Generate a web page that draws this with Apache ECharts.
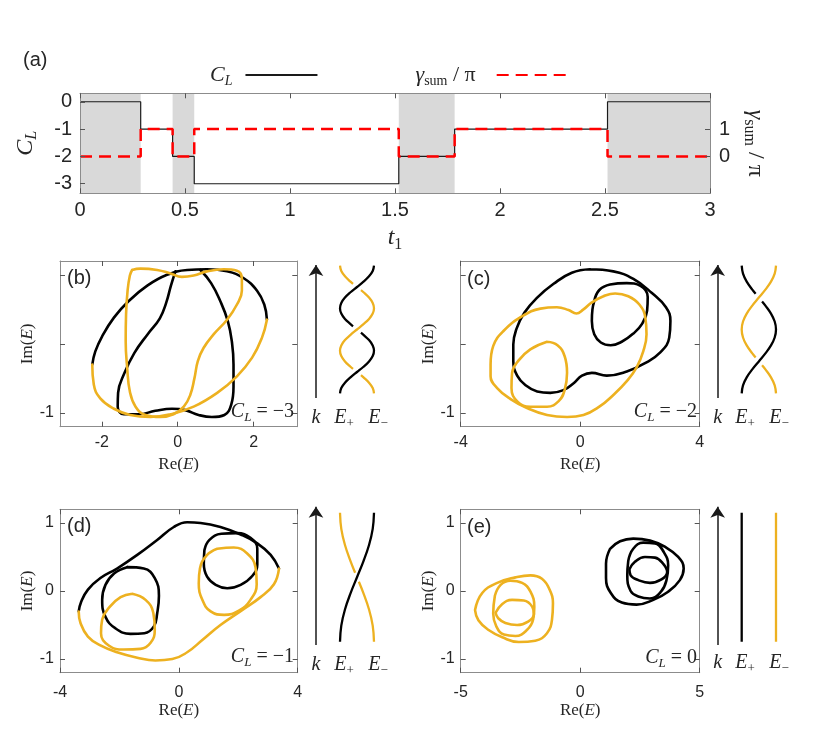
<!DOCTYPE html>
<html><head><meta charset="utf-8">
<script src="https://cdn.jsdelivr.net/npm/echarts@6/dist/echarts.min.js"></script>
<style>html,body{margin:0;padding:0;background:#fff}#c{width:822px;height:744px}</style>
</head><body><div id="c"></div>
<script>
// ---------- Panel (a) data ----------
const t1Breaks = [0, 0.289, 0.441, 0.544, 1.518, 1.784, 2.512, 3];
const clLevels = [0, -1, -2, -3, -2, -1, 0];
const gammaLevels = [0, 1, 0, 1, 0, 1, 0];
const shadedRanges = [[0, 0.289], [0.441, 0.544], [1.518, 1.784], [2.512, 3]];
const aXTicks = [0, 0.5, 1, 1.5, 2, 2.5, 3];
const aLeftTicks = [0, -1, -2, -3];
const aRightTicks = [0, 1];

// ---------- Panel (b) C_L = -3 ----------
const bBlackOuter = [[-2.25,-0.30],[-2.17,-0.11],[-1.99,0.11],[-1.68,0.38],[-1.29,0.62],[-0.81,0.84],[-0.28,1.00],[0.25,1.07],[0.77,1.08],[1.30,1.05],[1.74,0.95],[2.09,0.77],[2.28,0.57],[2.35,0.35]];
const bYellowOuter = [[2.35,0.35],[2.22,0.09],[1.96,-0.20],[1.56,-0.47],[1.04,-0.71],[0.42,-0.91],[-0.19,-1.02],[-0.72,-1.06],[-1.25,-1.03],[-1.68,-0.94],[-2.04,-0.79],[-2.21,-0.59],[-2.25,-0.30]];
const bBlackInner = [[-0.06,1.05],[-0.18,0.84],[-0.30,0.60],[-0.47,0.37],[-0.79,0.14],[-1.14,-0.13],[-1.40,-0.42],[-1.57,-0.71],[-1.58,-0.91],[-1.42,-1.02],[-1.03,-1.02],[-0.59,-0.97],[-0.15,-0.94],[0.20,-0.96],[0.55,-1.03],[0.90,-1.06],[1.23,-1.03],[1.41,-0.88],[1.47,-0.62],[1.47,-0.30],[1.43,0.02],[1.32,0.33],[1.12,0.62],[0.88,0.88],[0.60,1.07]];
const bYellowInner = [[-1.20,1.07],[-0.98,1.09],[-0.54,1.07],[-0.19,1.02],[0.11,0.97],[0.42,0.99],[0.77,1.05],[1.21,1.08],[1.56,1.06],[1.69,0.94],[1.69,0.77],[1.56,0.57],[1.30,0.35],[0.95,0.14],[0.68,-0.06],[0.53,-0.25],[0.44,-0.50],[0.33,-0.74],[0.16,-0.91],[-0.11,-1.02],[-0.46,-1.06],[-0.85,-1.03],[-1.11,-0.91],[-1.26,-0.69],[-1.33,-0.35],[-1.37,0.04],[-1.36,0.43],[-1.32,0.77],[-1.26,0.99]];

// ---------- Panel (c) C_L = -2 ----------
const cBlackOuter = [[0.33,1.08],[1.11,1.05],[1.78,0.94],[2.39,0.74],[2.87,0.53],[3.02,0.33],[2.98,0.09],[2.69,-0.12],[2.17,-0.28],[1.56,-0.40],[0.89,-0.46],[0.39,-0.42],[0.06,-0.46],[-0.22,-0.57],[-0.56,-0.67],[-1.00,-0.71],[-1.44,-0.69],[-1.83,-0.60],[-2.11,-0.46],[-2.24,-0.25],[-2.24,-0.01],[-2.13,0.22],[-1.87,0.45],[-1.44,0.67],[-0.89,0.87],[-0.28,1.03]];
const cBlackInner = [[0.47,0.62],[0.64,0.78],[1.00,0.86],[1.56,0.88],[2.02,0.84],[2.26,0.68],[2.24,0.48],[2.07,0.29],[1.78,0.15],[1.39,0.03],[1.02,-0.02],[0.69,0.02],[0.47,0.14],[0.39,0.33],[0.41,0.50]];
const cYellowOuter = [[-3.00,-0.30],[-2.91,-0.03],[-2.56,0.19],[-1.94,0.40],[-1.33,0.51],[-0.78,0.53],[-0.39,0.49],[-0.13,0.44],[0.11,0.50],[0.39,0.60],[0.78,0.69],[1.17,0.73],[1.61,0.69],[1.98,0.57],[2.18,0.38],[2.22,0.14],[2.11,-0.11],[1.89,-0.34],[1.56,-0.54],[1.11,-0.74],[0.64,-0.91],[0.11,-1.03],[-0.44,-1.06],[-1.11,-1.03],[-1.78,-0.93],[-2.33,-0.80],[-2.78,-0.64],[-3.00,-0.47]];
const cYellowInner = [[-1.11,0.03],[-0.76,-0.02],[-0.52,-0.18],[-0.44,-0.42],[-0.52,-0.67],[-0.72,-0.83],[-1.11,-0.91],[-1.67,-0.91],[-2.09,-0.84],[-2.30,-0.64],[-2.28,-0.42],[-2.06,-0.24],[-1.67,-0.08]];

// ---------- Panel (d) C_L = -1 ----------
const dBlackOuter = [[-3.37,-0.30],[-3.29,-0.16],[-3.06,0.02],[-2.64,0.19],[-2.08,0.33],[-1.40,0.53],[-0.73,0.75],[-0.17,0.94],[0.28,1.01],[0.73,1.00],[1.40,0.94],[2.08,0.83],[2.64,0.70],[3.09,0.53],[3.37,0.33]];
const dYellowOuter = [[3.37,0.33],[3.20,0.10],[2.75,-0.09],[2.13,-0.28],[1.40,-0.50],[0.79,-0.72],[0.28,-0.90],[-0.22,-1.00],[-0.79,-1.02],[-1.40,-0.98],[-2.08,-0.90],[-2.64,-0.80],[-3.06,-0.67],[-3.31,-0.47],[-3.37,-0.30]];
const dBlackLeft = [[-1.74,0.35],[-1.18,0.33],[-0.81,0.19],[-0.67,-0.07],[-0.73,-0.33],[-0.84,-0.52],[-1.16,-0.62],[-1.63,-0.63],[-2.13,-0.55],[-2.47,-0.38],[-2.58,-0.13],[-2.47,0.09],[-2.17,0.26]];
const dBlackRight = [[0.86,0.60],[1.03,0.75],[1.43,0.84],[1.96,0.85],[2.41,0.78],[2.64,0.62],[2.64,0.39],[2.47,0.22],[2.08,0.09],[1.63,0.04],[1.24,0.09],[0.95,0.21],[0.84,0.40]];
const dYellowLeft = [[-1.57,-0.04],[-1.12,-0.13],[-0.86,-0.32],[-0.81,-0.57],[-0.95,-0.76],[-1.29,-0.85],[-1.85,-0.86],[-2.36,-0.80],[-2.62,-0.62],[-2.58,-0.42],[-2.32,-0.23],[-1.96,-0.09]];
const dYellowRight = [[1.29,0.62],[1.85,0.64],[2.30,0.55],[2.58,0.35],[2.62,0.10],[2.41,-0.13],[2.02,-0.29],[1.52,-0.35],[1.07,-0.30],[0.79,-0.13],[0.67,0.11],[0.71,0.33],[0.93,0.52]];

// ---------- Panel (e) C_L = 0 ----------
const eBlackOuter = [[1.25,0.62],[1.67,0.73],[2.22,0.77],[2.92,0.74],[3.54,0.65],[4.10,0.50],[4.33,0.33],[4.17,0.16],[3.68,-0.01],[3.06,-0.13],[2.36,-0.20],[1.74,-0.17],[1.28,-0.03],[1.08,0.19],[1.08,0.40]];
const eBlackMid = [[2.01,0.44],[2.22,0.62],[2.64,0.71],[3.13,0.70],[3.50,0.57],[3.68,0.38],[3.61,0.16],[3.38,-0.01],[2.92,-0.11],[2.43,-0.08],[2.11,0.00],[1.97,0.23]];
const eBlackInner = [[2.06,0.32],[2.29,0.43],[2.71,0.50],[3.13,0.49],[3.47,0.40],[3.64,0.28],[3.40,0.17],[2.92,0.12],[2.43,0.16],[2.11,0.23]];
const eYellowOuter = [[-4.40,-0.28],[-4.10,-0.03],[-3.47,0.12],[-2.71,0.20],[-2.08,0.23],[-1.60,0.18],[-1.28,0.02],[-1.14,-0.18],[-1.18,-0.42],[-1.39,-0.62],[-1.88,-0.73],[-2.57,-0.75],[-3.26,-0.68],[-3.85,-0.57],[-4.26,-0.43]];
const eYellowMid = [[-3.57,-0.07],[-3.33,0.09],[-2.92,0.15],[-2.43,0.12],[-2.08,-0.01],[-1.92,-0.23],[-1.97,-0.42],[-2.22,-0.57],[-2.71,-0.66],[-3.19,-0.64],[-3.51,-0.52],[-3.64,-0.33]];
const eYellowInner = [[-3.54,-0.32],[-3.26,-0.19],[-2.85,-0.13],[-2.36,-0.14],[-2.01,-0.23],[-1.94,-0.34],[-2.18,-0.45],[-2.64,-0.50],[-3.13,-0.47],[-3.43,-0.40]];

// ---------- Panel tick values ----------
const bXTicks = [-2, 0, 2], cXTicks = [-4, 0, 4], dXTicks = [-4, 0, 4], eXTicks = [-5, 0, 5];
const imTicks = [-1, 0, 1];
const clTexts = ['\u22123', '\u22122', '\u22121', '0'];

// ---------- Braid schematics (strand position 0 = left, 1 = right; height 0..1) ----------
const braidB = {
  black: [
    [[0,0],[0.038,0.042],[0.146,0.083],[0.309,0.125],[0.5,0.167],[0.691,0.208],[0.854,0.25],[0.962,0.292],[1,0.333],[0.962,0.375],[0.854,0.417],[0.691,0.458],[0.617,0.475]],
    [[0.383,0.525],[0.309,0.542],[0.146,0.583],[0.038,0.625],[0,0.667],[0.038,0.708],[0.146,0.75],[0.309,0.792],[0.5,0.833],[0.691,0.875],[0.854,0.917],[0.962,0.958],[1,1]]
  ],
  yellow: [
    [[1,0],[0.962,0.042],[0.854,0.083],[0.691,0.125],[0.617,0.142]],
    [[0.383,0.192],[0.309,0.208],[0.146,0.25],[0.038,0.292],[0,0.333],[0.038,0.375],[0.146,0.417],[0.309,0.458],[0.5,0.5],[0.691,0.542],[0.854,0.583],[0.962,0.625],[1,0.667],[0.962,0.708],[0.854,0.75],[0.691,0.792],[0.617,0.808]],
    [[0.383,0.858],[0.309,0.875],[0.146,0.917],[0.038,0.958],[0,1]]
  ],
  arrow: [[-0.706,-0.037],[-0.706,1.005]]
};
const braidC = {
  black: [
    [[0,0],[0.038,0.0625],[0.146,0.125],[0.309,0.1875],[0.5,0.25],[0.691,0.3125],[0.854,0.375],[0.962,0.4375],[1,0.5],[0.962,0.5625],[0.854,0.625],[0.691,0.6875],[0.594,0.72]],
    [[0.406,0.78],[0.309,0.8125],[0.146,0.875],[0.038,0.9375],[0,1]]
  ],
  yellow: [
    [[1,0],[0.962,0.0625],[0.854,0.125],[0.691,0.1875],[0.594,0.22]],
    [[0.406,0.28],[0.309,0.3125],[0.146,0.375],[0.038,0.4375],[0,0.5],[0.038,0.5625],[0.146,0.625],[0.309,0.6875],[0.5,0.75],[0.691,0.8125],[0.854,0.875],[0.962,0.9375],[1,1]]
  ],
  arrow: [[-0.70,-0.037],[-0.70,1.005]]
};
const braidD = {
  black: [
    [[0,0],[0.038,0.125],[0.146,0.25],[0.309,0.375],[0.5,0.5],[0.691,0.625],[0.854,0.75],[0.962,0.875],[1,1]]
  ],
  yellow: [
    [[1,0],[0.962,0.125],[0.854,0.25],[0.691,0.375],[0.555,0.465]],
    [[0.445,0.535],[0.309,0.625],[0.146,0.75],[0.038,0.875],[0,1]]
  ],
  arrow: [[-0.706,-0.026],[-0.706,1.047]]
};
const braidE = {
  black: [[[0,0],[0,1]]],
  yellow: [[[1,0],[1,1]]],
  arrow: [[-0.70,-0.026],[-0.70,1.047]]
};

// ---------- styling ----------
const SANS = "'Liberation Sans', Arial, Helvetica, sans-serif";
const SERIF = "'Liberation Serif', 'Times New Roman', serif";
const TXT = '#262626', BOX = '#8c8c8c', TICK = '#555';
const BLACK = '#000000', YEL = '#EDB120', RED = '#FF0000', SHADE = '#D9D9D9';

function axis(gi, pos, min, max, ticks, labels, size, margin, extra) {
  return Object.assign({
    type: 'value', gridIndex: gi, position: pos, min: min, max: max, z: 10,
    axisLine: {show: true, onZero: false, lineStyle: {color: BOX, width: 1}},
    axisTick: {show: ticks.length > 0, inside: true, length: 5, customValues: ticks, lineStyle: {color: TICK, width: 1}},
    axisLabel: {show: labels.length > 0, customValues: labels, margin: margin, fontFamily: SANS, fontSize: size, color: TXT, formatter: v => String(v)},
    splitLine: {show: false}
  }, extra || {});
}
function hidden(gi) {
  return {type: 'value', gridIndex: gi, min: 0, max: 1, show: false, splitLine: {show: false}};
}
const richBase = (sz) => ({
  i: {fontFamily: SERIF, fontStyle: 'italic', fontSize: sz, color: TXT, fill: TXT},
  s: {fontFamily: SERIF, fontStyle: 'italic', fontSize: Math.round(sz * 0.65), color: TXT, fill: TXT, padding: [Math.round(sz * 0.55), 0, 0, 0]},
  r: {fontFamily: SERIF, fontSize: Math.round(sz * 0.65), color: TXT, fill: TXT, padding: [Math.round(sz * 0.55), 0, 0, 0]},
  u: {fontFamily: SERIF, fontSize: sz, color: TXT, fill: TXT}
});
const reName = '{u|Re(}{i|E}{u|)}';
const imName = '{u|Im(}{i|E}{u|)}';

const grids = [
  {left: 80, top: 93.3, width: 630, height: 100},
  {left: 60, top: 261, width: 237.3, height: 165.7},
  {left: 460.7, top: 261, width: 239, height: 165.7},
  {left: 60, top: 509.3, width: 237.7, height: 163.4},
  {left: 460.7, top: 509.3, width: 239, height: 163.4},
  {left: 340, top: 265.7, width: 34, height: 127.6},
  {left: 741.7, top: 265.7, width: 34.3, height: 127.6},
  {left: 340, top: 512.7, width: 34, height: 129},
  {left: 741.7, top: 512.7, width: 34.3, height: 129}
].map(g => Object.assign({show: false, containLabel: false}, g));

const panelRanges = [
  {x: [-3.1, 3.15], xt: bXTicks, yl: [-1], m: 8},
  {x: [-4, 4], xt: cXTicks, yl: [-1], m: 8},
  {x: [-4, 4], xt: dXTicks, yl: imTicks, m: 12},
  {x: [-5, 5], xt: eXTicks, yl: imTicks, m: 12}
];

const xAxes = [
  axis(0, 'bottom', 0, 3, aXTicks, aXTicks, 20, 7, {
    name: '{i|t}{r|1}', nameLocation: 'middle', nameGap: 30,
    nameTextStyle: {rich: richBase(24)}
  }),
  axis(0, 'top', 0, 3, aXTicks, [], 20, 7)
];
const yAxes = [
  axis(0, 'left', -3.35, 0.31, aLeftTicks, aLeftTicks, 20, 8, {
    name: '{i|C}{s|L}', nameLocation: 'middle', nameGap: 40, nameRotate: 90,
    nameTextStyle: {rich: richBase(24)}
  }),
  axis(0, 'right', -1.35, 2.31, aRightTicks, aRightTicks, 20, 9, {
    name: '{i|γ}{r|sum}{u| / π}', nameLocation: 'middle', nameGap: 30, nameRotate: -90,
    nameTextStyle: {rich: richBase(24)}
  })
];
panelRanges.forEach((p, k) => {
  const gi = k + 1;
  xAxes.push(axis(gi, 'bottom', p.x[0], p.x[1], p.xt, p.xt, 16, p.m, {
    name: reName, nameLocation: 'middle', nameGap: 29, nameTextStyle: {rich: richBase(17)}
  }));
  xAxes.push(axis(gi, 'top', p.x[0], p.x[1], p.xt, [], 16, 6));
  yAxes.push(axis(gi, 'left', -1.2, 1.2, imTicks, p.yl, 16, 6, {
    name: imName, nameLocation: 'middle', nameGap: 21, nameRotate: 90, nameTextStyle: {rich: richBase(17)}
  }));
  yAxes.push(axis(gi, 'right', -1.2, 1.2, imTicks, [], 16, 6));
});
for (let g = 5; g <= 8; g++) { xAxes.push(hidden(g)); yAxes.push(hidden(g)); }

function stepPts(br, lv) {
  const p = [];
  for (let i = 0; i < lv.length; i++) { p.push([br[i], lv[i]]); p.push([br[i + 1], lv[i]]); }
  return p;
}
const closeLoop = pts => pts.concat([pts[0]]);

const series = [];
// panel (a)
series.push({
  type: 'line', name: 'shade', xAxisIndex: 0, yAxisIndex: 0, data: [[0, -3.3]], symbol: 'none',
  lineStyle: {opacity: 0}, z: 1, silent: true, animation: false,
  markArea: {silent: true, itemStyle: {color: SHADE, opacity: 1},
    data: shadedRanges.map(r => [{xAxis: r[0]}, {xAxis: r[1]}])}
});
series.push({
  type: 'line', name: 'CL', xAxisIndex: 0, yAxisIndex: 0, data: stepPts(t1Breaks, clLevels),
  symbol: 'none', lineStyle: {color: '#1a1a1a', width: 1.2}, itemStyle: {color: '#1a1a1a'}, z: 3, animation: false
});
series.push({
  type: 'line', name: 'gamma', xAxisIndex: 0, yAxisIndex: 1, data: stepPts(t1Breaks, gammaLevels),
  symbol: 'none', lineStyle: {color: RED, width: 2.5, type: [12, 7]}, itemStyle: {color: RED}, z: 4, animation: false
});

function curve(p, pts, color, closed) {
  series.push({
    type: 'line', xAxisIndex: 2 * p, yAxisIndex: 2 * p, data: closed ? closeLoop(pts) : pts,
    smooth: 0.45, symbol: 'none', lineStyle: {color: color, width: 2.6, cap: 'round', join: 'round'},
    z: 2, silent: true, animation: false
  });
}
curve(1, bBlackOuter, BLACK, false); curve(1, bBlackInner, BLACK, false);
curve(1, bYellowOuter, YEL, false); curve(1, bYellowInner, YEL, true);
curve(2, cBlackOuter, BLACK, true); curve(2, cBlackInner, BLACK, true);
curve(2, cYellowOuter, YEL, true); curve(2, cYellowInner, YEL, true);
curve(3, dBlackOuter, BLACK, false); curve(3, dBlackLeft, BLACK, true); curve(3, dBlackRight, BLACK, true);
curve(3, dYellowOuter, YEL, false); curve(3, dYellowLeft, YEL, true); curve(3, dYellowRight, YEL, true);
curve(4, eBlackOuter, BLACK, true); curve(4, eBlackMid, BLACK, true); curve(4, eBlackInner, BLACK, true);
curve(4, eYellowOuter, YEL, true); curve(4, eYellowMid, YEL, true); curve(4, eYellowInner, YEL, true);

[braidB, braidC, braidD, braidE].forEach((b, k) => {
  const ai = 10 + k;
  const seg = (pts, color) => series.push({
    type: 'line', xAxisIndex: ai, yAxisIndex: ai, data: pts, smooth: 0.4, symbol: 'none', clip: false,
    lineStyle: {color: color, width: 2.3}, z: 2, silent: true, animation: false
  });
  b.black.forEach(s => seg(s, BLACK));
  b.yellow.forEach(s => seg(s, YEL));
  series.push({
    type: 'lines', coordinateSystem: 'cartesian2d', xAxisIndex: ai, yAxisIndex: ai, clip: false,
    symbol: ['none', 'arrow'], symbolSize: 11, silent: true, animation: false, z: 3,
    lineStyle: {color: '#1a1a1a', width: 1.5, opacity: 1},
    data: [{coords: b.arrow}]
  });
});

// ---------- text ----------
function gtext(x, y, text, sz, align, sans) {
  return {
    type: 'text', x: x, y: y, silent: true, z: 20,
    style: {
      text: text, x: 0, y: 0, align: align || 'center', textAlign: align || 'center',
      verticalAlign: 'middle', textVerticalAlign: 'middle',
      font: sz + 'px ' + (sans ? SANS : SERIF), fill: TXT, rich: richBase(sz)
    }
  };
}
const graphics = [
  gtext(23, 60, '(a)', 20, 'left', true),
  gtext(67, 278, '(b)', 20, 'left', true),
  gtext(467, 279, '(c)', 20, 'left', true),
  gtext(67, 526, '(d)', 20, 'left', true),
  gtext(467, 527, '(e)', 20, 'left', true),
  gtext(294, 412, '{i|C}{s|L}{u| = ' + clTexts[0] + '}', 20, 'right'),
  gtext(697, 412, '{i|C}{s|L}{u| = ' + clTexts[1] + '}', 20, 'right'),
  gtext(294, 657, '{i|C}{s|L}{u| = ' + clTexts[2] + '}', 20, 'right'),
  gtext(697, 658, '{i|C}{s|L}{u| = ' + clTexts[3] + '}', 20, 'right')
];
[[316, 344, 378, 418], [717.7, 745, 779, 418], [316, 344, 378, 665], [717.7, 745, 779, 663]].forEach(p => {
  graphics.push(gtext(p[0], p[3], '{i|k}', 20));
  graphics.push(gtext(p[1], p[3], '{i|E}{r|+}', 20));
  graphics.push(gtext(p[2], p[3], '{i|E}{r|\u2212}', 20));
});

const chart = echarts.init(document.getElementById('c'), null, {renderer: 'canvas'});
chart.setOption({
  backgroundColor: '#ffffff',
  animation: false,
  grid: grids,
  xAxis: xAxes,
  yAxis: yAxes,
  legend: {
    data: [{name: 'CL', textStyle: {padding: [0, 8, 0, 0]}}, {name: 'gamma', textStyle: {padding: [0, 16, 0, 0]}}],
    left: 205, top: 59, align: 'right', itemWidth: 72, itemHeight: 14, itemGap: 97,
    selectedMode: false,
    itemStyle: {opacity: 0},
    formatter: n => n === 'CL' ? '{i|C}{s|L}' : '{i|γ}{r|sum}{u| / π}',
    textStyle: {rich: richBase(22), fontSize: 22}
  },
  series: series,
  graphic: graphics
});
</script></body></html>
